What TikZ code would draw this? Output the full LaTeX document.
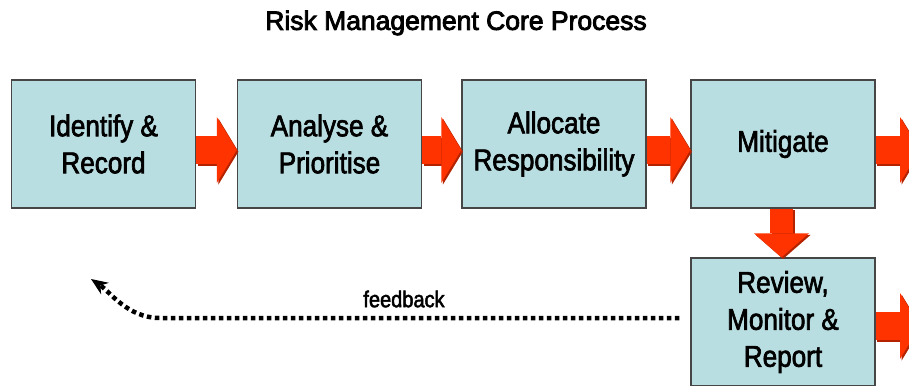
\documentclass[tikz,border=0pt]{standalone}
\usepackage{fontspec}
\setmainfont{Liberation Sans}
\newfontfamily\titlefont[RawFeature={embolden=3.2}]{Liberation Sans}
\newfontfamily\boxfont[FakeStretch=0.87, RawFeature={embolden=2.2}]{Liberation Sans}
\usepackage{xcolor}
\usetikzlibrary{arrows.meta}
\tikzset{>=latex}
\definecolor{Boxcol}{RGB}{185,222,226}
\definecolor{Edgecol}{RGB}{70,70,70}
\definecolor{Arrcol}{RGB}{255,51,0}
\definecolor{Shadecol}{RGB}{180,35,0}
\tikzset{
  stage/.style={draw=Edgecol, line width=1.4pt, fill=Boxcol, align=center,
    minimum width=184pt, minimum height=128pt, inner sep=0pt,
    font=\boxfont\fontsize{30}{37}\selectfont},
  flow/.style={Arrcol, line width=28pt, -{Triangle[length=20pt, width=66pt, line width=0pt]}},
  flowdown/.style={Arrcol, line width=23pt, -{Triangle[length=24pt, width=55pt, line width=0pt]}},
  shade/.style={Shadecol, transform canvas={shift={(1.6pt,-1.6pt)}}},
  feedback/.style={line width=4.5pt, dash pattern=on 4.5pt off 3.5pt,
    -{Stealth[length=17pt, width=14pt, line width=0pt]}},
}

\begin{document}
\begin{tikzpicture}[x=1pt, y=-1pt]
    \path[use as bounding box, clip] (0,0) rectangle (909,385);

    \node [font=\titlefont\fontsize{26.5}{30}\selectfont] (title) at (456, 23) {Risk Management Core Process};

    \node [stage] (identify) at (103.5, 144) {Identify \&\\Record};
    \node [stage] (analyse)  at (329.5, 144) {Analyse \&\\Prioritise};
    \node [stage] (allocate) at (554, 144)   {Allocate\\Responsibility};
    \node [stage] (mitigate) at (783, 144)   {Mitigate};
    \node [stage] (review)   at (783, 322)   {Review,\\Monitor \&\\Report};

    \coordinate (mitout) at (920, 150);
    \coordinate (revout) at (920, 326);
    \coordinate (fbend)  at (91, 279);

    % block arrows, shade first
    \foreach \a/\b in {identify/analyse, analyse/allocate, allocate/mitigate}{
        \draw [flow, shade] ([yshift=-6pt]\a.east) -- ([yshift=-6pt]\b.west);
        \draw [flow] ([yshift=-6pt]\a.east) -- ([yshift=-6pt]\b.west);
    }
    \draw [flow, shade] ([yshift=-6pt]mitigate.east) -- (mitout);
    \draw [flow] ([yshift=-6pt]mitigate.east) -- (mitout);
    \draw [flow, shade] ([yshift=-4pt]review.east) -- (revout);
    \draw [flow] ([yshift=-4pt]review.east) -- (revout);
    \draw [flowdown, shade] ([xshift=-1.5pt]mitigate.south) -- ([xshift=-1.5pt]review.north);
    \draw [flowdown] ([xshift=-1.5pt]mitigate.south) -- ([xshift=-1.5pt]review.north);

    % feedback loop
    \draw [feedback] ([xshift=-11pt, yshift=4pt]review.west) -- (160, 318)
        .. controls (128, 318) and (110, 292) .. (fbend);
    \node [font=\boxfont\fontsize{23}{26}\selectfont] (fblabel) at (404, 299) {feedback};
\end{tikzpicture}
\end{document}
